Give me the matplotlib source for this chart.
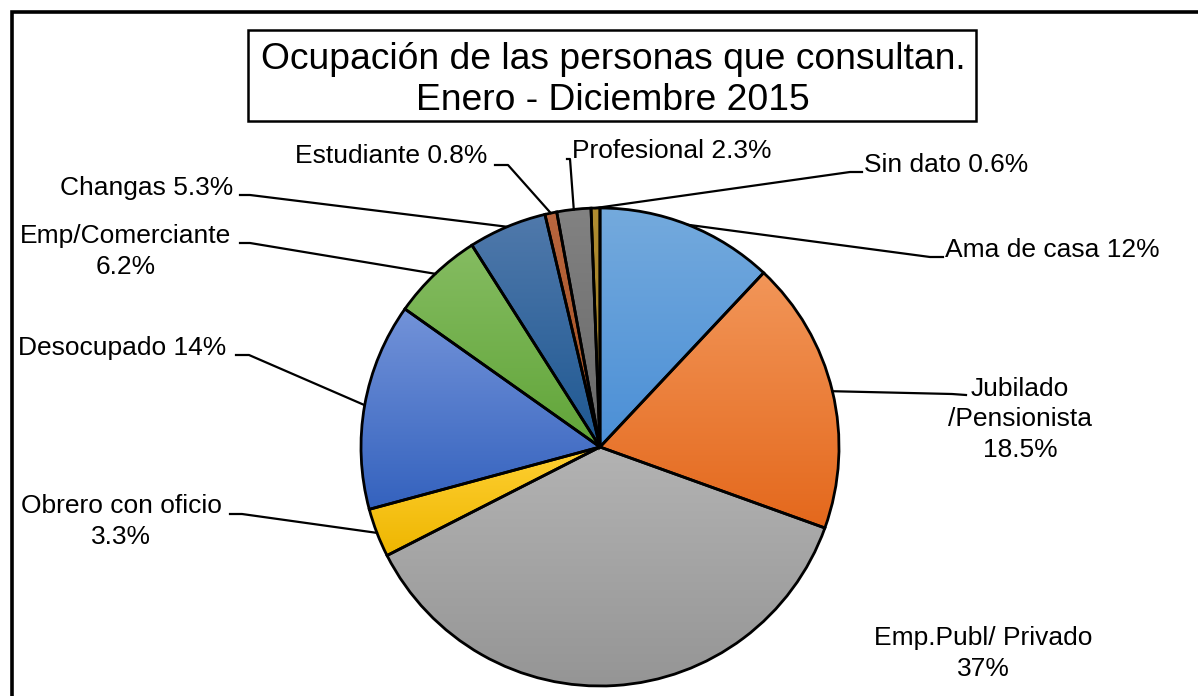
import numpy as np
import matplotlib.pyplot as plt
from matplotlib.colors import to_rgb
from matplotlib.patches import Rectangle

plt.rcParams['font.family'] = ['Liberation Sans', 'DejaVu Sans']

# data
categories = ['Ama de casa', 'Jubilado\n/Pensionista', 'Emp.Publ/ Privado',
              'Obrero con oficio', 'Desocupado', 'Emp/Comerciante',
              'Changas', 'Estudiante', 'Profesional', 'Sin dato']
values = [12, 18.5, 37, 3.3, 14, 6.2, 5.3, 0.8, 2.3, 0.6]
separators = [' ', '\n', '\n', '\n', ' ', '\n', ' ', ' ', ' ', ' ']

# gradient colours per slice (top, bottom)
top_colors = ['#74aadd', '#f29659', '#b3b3b3', '#ffd033', '#7393d9',
              '#85bc61', '#5079ab', '#b9663f', '#828282', '#b08d32']
bot_colors = ['#4b8fd6', '#e4681c', '#959595', '#eeb600', '#3462be',
              '#61a539', '#1e5892', '#a3501f', '#686868', '#9a791d']

W, H = 1198, 696

def py(y):
    return H - y

# label layout in pixels: x, first baseline, alignment
label_pos = [(945, 257, 'left'), (1020, 396, 'center'), (983, 645, 'center'),
             (121, 513, 'center'), (18, 355, 'left'), (126, 243, 'center'),
             (233, 195, 'right'), (295, 163, 'left'), (572, 158, 'left'),
             (864, 172, 'left')]
# leader stubs (start, end) in pixels
stubs = [((943, 257), (930, 257)), ((966, 395), (952, 394)), None,
         ((230, 514), (242, 514)), ((236, 355), (249, 355)),
         ((240, 243), (250, 243)), ((240, 195), (250, 195)),
         ((495, 165), (508, 165)), ((567, 159), (570, 159)),
         ((862, 172), (850, 172))]

fig = plt.figure(figsize=(W / 100, H / 100), dpi=100)
ax = fig.add_axes([0, 0, 1, 1])
ax.axis('off')

cx, cy, r = 600, py(447), 239
wedges, _ = ax.pie(values, startangle=90, counterclock=False,
                   center=(cx, cy), radius=r, colors=top_colors,
                   wedgeprops=dict(edgecolor='black', linewidth=2.0))

for w, c1, c2 in zip(wedges, top_colors, bot_colors):
    ext = w.get_path().get_extents()
    t = np.linspace(0, 1, 200)[:, None]
    grad = (1 - t) * np.array(to_rgb(c1)) + t * np.array(to_rgb(c2))
    im = ax.imshow(grad[:, None, :], extent=(ext.x0, ext.x1, ext.y0, ext.y1),
                   origin='upper', aspect='auto', zorder=1.5,
                   interpolation='bilinear')
    im.set_clip_path(w)
    w.set_facecolor('none')
    w.set_zorder(2)

# labels and leaders
for i, w in enumerate(wedges):
    text = categories[i] + separators[i] + f'{values[i]:g}%'
    x, y0, ha = label_pos[i]
    for k, line in enumerate(text.split('\n')):
        ax.text(x, py(y0 + 30.5 * k), line, ha=ha, va='baseline',
                fontsize=19, color='black')
    if stubs[i] is not None:
        mid = np.deg2rad((w.theta1 + w.theta2) / 2)
        px, pyy = cx + r * np.cos(mid), cy + r * np.sin(mid)
        (sx, sy), (ex, ey) = stubs[i]
        ax.plot([sx, ex, px], [py(sy), py(ey), pyy], color='black',
                linewidth=1.6, zorder=3, solid_joinstyle='round')

# title box
ax.add_patch(Rectangle((248, py(121)), 976 - 248, 121 - 30, fill=False,
                       edgecolor='black', linewidth=1.8, zorder=4))
ax.text(613, py(69), 'Ocupación de las personas que consultan.', ha='center',
        va='baseline', fontsize=26.8)
ax.text(613, py(110), 'Enero - Diciembre 2015', ha='center', va='baseline',
        fontsize=26.8)

# outer chart frame (only left and top edges visible)
ax.add_patch(Rectangle((12, py(H + 20)), W + 20, H + 8, fill=False,
                       edgecolor='black', linewidth=2.6, zorder=4))

ax.set_xlim(0, W)
ax.set_ylim(0, H)
fig.savefig('out.png', dpi=100)
